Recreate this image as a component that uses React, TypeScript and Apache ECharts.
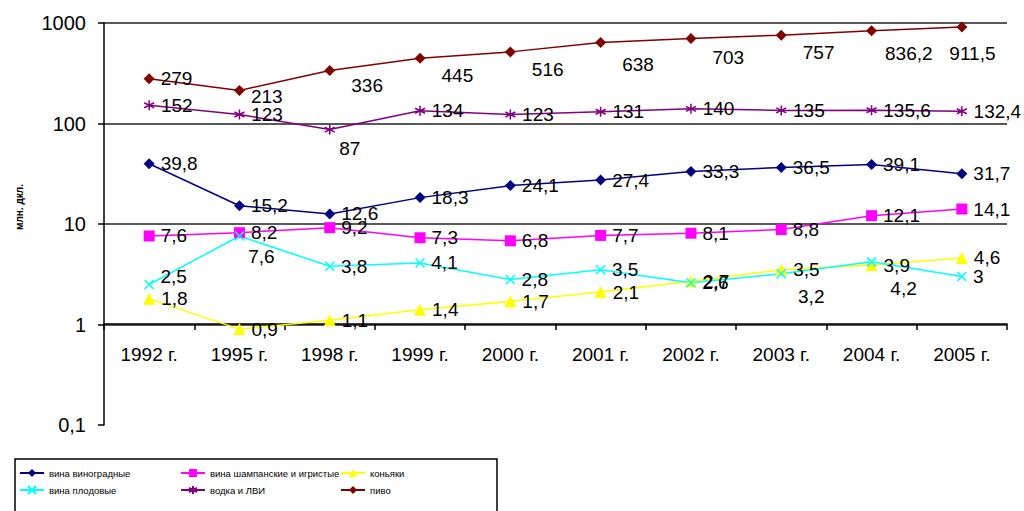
import React, { useEffect, useRef } from "react";
import * as echarts from "echarts";

const years = ["1992 г.", "1995 г.", "1998 г.", "1999 г.", "2000 г.", "2001 г.", "2002 г.", "2003 г.", "2004 г.", "2005 г."];
const yTicks = [0.1, 1, 10, 100, 1000];

const grapeWine = [39.8, 15.2, 12.6, 18.3, 24.1, 27.4, 33.3, 36.5, 39.1, 31.7];
const sparklingWine = [7.6, 8.2, 9.2, 7.3, 6.8, 7.7, 8.1, 8.8, 12.1, 14.1];
const cognac = [1.8, 0.9, 1.1, 1.4, 1.7, 2.1, 2.7, 3.5, 3.9, 4.6];
const fruitWine = [2.5, 7.6, 3.8, 4.1, 2.8, 3.5, 2.6, 3.2, 4.2, 3];
const vodka = [152, 123, 87, 134, 123, 131, 140, 135, 135.6, 132.4];
const beer = [279, 213, 336, 445, 516, 638, 703, 757, 836.2, 911.5];

const seriesNames = [
  "вина виноградные",
  "вина шампанские и игристые",
  "коньяки",
  "вина плодовые",
  "водка и ЛВИ",
  "пиво",
];

const fmt = (v: number) => String(v).replace(".", ",");

// label placement tweaks (style only): "series-point" -> {position, offset}
const labelTweaks: Record<string, { position?: string; offset?: number[] }> = {
  "5-1": { offset: [0, 6] },
  "5-2": { offset: [10, 15] },
  "5-3": { offset: [10, 17] },
  "5-4": { offset: [10, 18] },
  "5-5": { offset: [10, 22] },
  "5-6": { offset: [10, 19] },
  "5-7": { offset: [10, 17] },
  "5-8": { offset: [2, 23] },
  "5-9": { offset: [-24, 26] },
  "4-2": { position: "bottom", offset: [20, -2] },
  "3-0": { offset: [0, -8] },
  "3-1": { position: "bottom", offset: [22, 0] },
  "3-7": { position: "bottom", offset: [30, 2] },
  "3-8": { position: "bottom", offset: [32, 6] },
};

const labelFont = { fontFamily: "Liberation Sans, Arial, sans-serif", fontSize: 19, color: "#000" };

export default function App() {
  const ref = useRef<HTMLDivElement>(null);
  useEffect(() => {
    if (!ref.current) return;
    const chart = echarts.init(ref.current, null, { renderer: "svg" });
    const dataSets = [grapeWine, sparklingWine, cognac, fruitWine, vodka, beer];
    const colors = ["#000080", "#FF00FF", "#FFFF00", "#00FFFF", "#800080", "#800000"];
    const symbols = [
      "diamond",
      "rect",
      "triangle",
      "path://M0,0L10,10M10,0L0,10",
      "path://M5,0L5,10M0,2.5L10,7.5M0,7.5L10,2.5",
      "diamond",
    ];
    const sizes = [11, 11, 12, 9, 10, 11];
    const series = dataSets.map((arr, si) => ({
      name: seriesNames[si],
      type: "line",
      data: arr.map((v, pi) => {
        const t = labelTweaks[`${si}-${pi}`];
        return t ? { value: v, label: { ...t } } : v;
      }),
      symbol: symbols[si],
      symbolSize: sizes[si],
      clip: false,
      lineStyle: { color: colors[si], width: 1.5 },
      itemStyle:
        si === 3 || si === 4
          ? { color: colors[si], borderColor: colors[si], borderWidth: 1.5 }
          : { color: colors[si], borderWidth: 0 },
      label: {
        show: true,
        position: "right",
        distance: 6,
        formatter: (p: any) => fmt(p.value),
        ...labelFont,
      },
      z: 3,
    }));

    const legendBase = {
      orient: "vertical",
      top: 463,
      itemWidth: 24,
      itemHeight: 10,
      itemGap: 7,
      textStyle: {
        fontFamily: "Liberation Sans, Arial, sans-serif",
        fontSize: 9.5,
        color: "#000",
      },
    };

    chart.setOption({
      animation: false,
      backgroundColor: "#fff",
      grid: { left: 104, right: 17, top: 23, bottom: 86, containLabel: false, outerBoundsMode: "none" },
      legend: [
        { ...legendBase, left: 14, data: [seriesNames[0], seriesNames[3]] },
        { ...legendBase, left: 175, data: [seriesNames[1], seriesNames[4]] },
        { ...legendBase, left: 335, data: [seriesNames[2], seriesNames[5]] },
      ],
      xAxis: {
        type: "category",
        data: years,
        boundaryGap: true,
        position: "bottom",
        offset: -101,
        axisLine: { show: true, lineStyle: { color: "#000", width: 1.5 } },
        axisTick: { show: true, length: 6, inside: false, lineStyle: { color: "#000", width: 1.5 } },
        axisLabel: { margin: 21, ...labelFont, fontSize: 19 },
      },
      yAxis: {
        type: "log",
        logBase: 10,
        min: yTicks[0],
        max: yTicks[yTicks.length - 1],
        name: "млн. дкл.",
        nameLocation: "middle",
        nameGap: 80,
        nameTextStyle: {
          fontFamily: "Liberation Sans, Arial, sans-serif",
          fontSize: 10,
          fontWeight: "bold",
          color: "#000",
          padding: [0, 0, 0, 34],
        },
        axisLine: { show: true, lineStyle: { color: "#000", width: 1.5 } },
        axisTick: { show: true, length: 6, inside: false, lineStyle: { color: "#000", width: 1.5 } },
        axisLabel: { margin: 18, formatter: (v: number) => fmt(v), ...labelFont, fontSize: 20 },
        splitLine: { show: true, showMinLine: false, lineStyle: { color: "#222", width: 1.5 } },
      },
      graphic: [
        {
          type: "rect",
          shape: { x: 15, y: 459, width: 482, height: 70 },
          style: { fill: "none", stroke: "#000", lineWidth: 1.5 },
          z: -1,
        },
      ],
      series,
    });
    return () => chart.dispose();
  }, []);
  return <div ref={ref} style={{ position: "absolute", left: 0, top: 0, width: 1024, height: 511 }} />;
}
